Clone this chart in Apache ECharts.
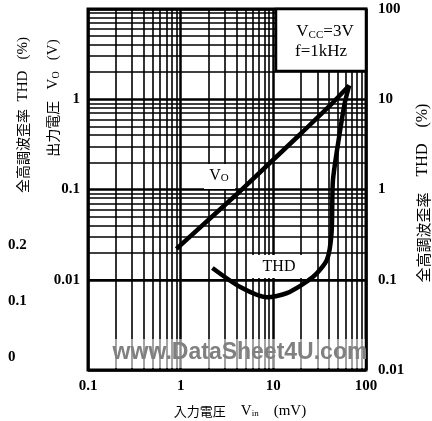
<!DOCTYPE html>
<html>
<head>
<meta charset="utf-8">
<script src="https://cdn.jsdelivr.net/npm/echarts@6/dist/echarts.min.js"></script>
<style>html,body{margin:0;padding:0;background:#fff}#c{width:432px;height:421px}</style>
</head>
<body>
<div id="c"></div>
<script>
// Input voltage (mV) and output voltage Vo (V)
const vinVo = [0.9, 4, 20, 44, 66];
const voValues = [0.022, 0.088, 0.42, 0.92, 1.42];
// Input voltage (mV) and THD (%)
const vinThd = [2.2, 4.4, 8.5, 14, 26.7, 37.8, 42.5, 44, 52, 59, 66];
const thdValues = [0.135, 0.083, 0.064, 0.071, 0.107, 0.166, 0.33, 1.27, 4.2, 9.1, 14.2];
// axis tick labels
const xTicks = [0.1, 1, 10, 100];
const voTickLabels = [0.01, 0.1, 1];
const thdTicks = [0.01, 0.1, 1, 10, 100];
const thdLinearTicks = [0, 0.1, 0.2];

const serif = "'Liberation Serif', 'DejaVu Serif', serif";
const cjk = "'Noto Sans CJK JP', 'Noto Sans', sans-serif";

function fmt(v){ return String(+Number(v).toPrecision(3)); }

const minorX = [], minorY = [];
[0.1, 1, 10].forEach(d => { for (let k = 2; k <= 9; k++) minorX.push(+(k * d).toPrecision(3)); });
[0.001, 0.01, 0.1, 1].forEach(d => { for (let k = 2; k <= 9; k++) minorY.push(+(k * d).toPrecision(3)); });

const chart = echarts.init(document.getElementById('c'), null, {renderer: 'canvas'});

chart.setOption({
  animation: false,
  backgroundColor: '#fff',
  grid: [
    { left: 88, right: 66, top: 9, bottom: 51, show: true, borderColor: '#000', borderWidth: 3, backgroundColor: '#fff', z: 0 },
    { left: 88, width: 10, top: 245, height: 112, show: false }
  ],
  xAxis: [
    { type: 'log', gridIndex: 0, min: 0.1, max: 100, logBase: 10,
      axisLine: { show: false }, axisTick: { show: false },
      splitLine: { show: true, lineStyle: { color: '#000', width: 2.5 } },
      axisLabel: { margin: 9, fontFamily: serif, fontSize: 15, fontWeight: 'bold', color: '#000',
        formatter: v => xTicks.some(t => Math.abs(t - v) / t < 1e-6) ? fmt(v) : '' } },
    { type: 'value', gridIndex: 1, min: 0, max: 1, show: false }
  ],
  yAxis: [
    { type: 'log', gridIndex: 0, position: 'left', min: 0.001, max: 10, logBase: 10,
      axisLine: { show: false }, axisTick: { show: false },
      splitLine: { show: true, lineStyle: { color: '#000', width: 2.5 } },
      axisLabel: { margin: 8, fontFamily: serif, fontSize: 15, fontWeight: 'bold', color: '#000',
        formatter: v => voTickLabels.some(t => Math.abs(t - v) / t < 1e-6) ? fmt(v) : '' } },
    { type: 'log', gridIndex: 0, position: 'right', min: 0.01, max: 100, logBase: 10,
      axisLine: { show: false }, axisTick: { show: false }, splitLine: { show: false },
      axisLabel: { margin: 12, fontFamily: serif, fontSize: 15, fontWeight: 'bold', color: '#000',
        formatter: v => thdTicks.some(t => Math.abs(t - v) / t < 1e-6) ? fmt(v) : '' } },
    { type: 'value', gridIndex: 1, position: 'left', min: thdLinearTicks[0], max: thdLinearTicks[thdLinearTicks.length - 1], interval: 0.1,
      axisLine: { show: false }, axisTick: { show: false }, splitLine: { show: false },
      axisLabel: { margin: 80, align: 'left', fontFamily: serif, fontSize: 15, fontWeight: 'bold', color: '#000',
        formatter: v => fmt(v) } }
  ],
  series: [
    { name: 'grid', type: 'line', xAxisIndex: 0, yAxisIndex: 0, data: [], silent: true, z: 1,
      markLine: { silent: true, symbol: 'none', animation: false, label: { show: false },
        lineStyle: { color: '#000', width: 1.6, type: 'solid' },
        data: minorX.map(v => ({ xAxis: v })).concat(minorY.map(v => ({ yAxis: v }))) } },
    { name: 'Vo', type: 'line', xAxisIndex: 0, yAxisIndex: 0, z: 5,
      data: vinVo.map((x, i) => [x, voValues[i]]), symbol: 'none',
      lineStyle: { color: '#000', width: 4.5 } },
    { name: 'THD', type: 'line', xAxisIndex: 0, yAxisIndex: 1, z: 5,
      data: vinThd.map((x, i) => [x, thdValues[i]]), symbol: 'none', smooth: 0.25,
      lineStyle: { color: '#000', width: 4.5 } }
  ],
  graphic: [
    // watermark band
    { type: 'rect', shape: { x: 90, y: 339, width: 275, height: 29 }, style: { fill: 'rgba(255,255,255,0.55)' }, z: 50, silent: true },
    { type: 'text', x: 240, y: 353, z: 51, silent: true,
      style: { text: 'www.DataSheet4U.com', font: "bold 23px 'Liberation Sans', Arial, sans-serif", fill: '#808080', align: 'center', verticalAlign: 'middle' } },
    // condition box
    { type: 'rect', shape: { x: 276, y: 9, width: 90, height: 62 }, style: { fill: '#fff', stroke: '#000', lineWidth: 2.5 }, z: 60 },
    { type: 'text', x: 325, y: 32, z: 61,
      style: { rich: { a: { fontFamily: serif, fontSize: 17, fill: '#000' }, s: { fontFamily: serif, fontSize: 11, fill: '#000', padding: [6,0,0,0] } },
        text: '{a|V}{s|CC}{a|=3V}', align: 'center', verticalAlign: 'middle' } },
    { type: 'text', x: 321, y: 52, z: 61,
      style: { text: 'f=1kHz', font: "17px " + serif, fill: '#000', align: 'center', verticalAlign: 'middle' } },
    // curve labels
    { type: 'rect', shape: { x: 204, y: 164, width: 31, height: 25 }, style: { fill: '#fff' }, z: 60 },
    { type: 'text', x: 219, y: 176, z: 61,
      style: { rich: { a: { fontFamily: serif, fontSize: 16, fill: '#000' }, s: { fontFamily: serif, fontSize: 11, fill: '#000', padding: [5,0,0,0] } },
        text: '{a|V}{s|O}', align: 'center', verticalAlign: 'middle' } },
    { type: 'rect', shape: { x: 252, y: 255, width: 53, height: 23 }, style: { fill: '#fff' }, z: 60 },
    { type: 'text', x: 279, y: 267, z: 61,
      style: { text: 'THD', font: "16px " + serif, fill: '#000', align: 'center', verticalAlign: 'middle' } },
    // axis titles
    { type: 'text', x: 23, y: 115, rotation: Math.PI / 2, z: 61,
      style: { rich: { c: { fontFamily: cjk, fontSize: 14, fill: '#000' }, l: { fontFamily: serif, fontSize: 15, fill: '#000' } },
        text: '{c|全高調波歪率}{l|  THD   (%)}', align: 'center', verticalAlign: 'middle' } },
    { type: 'text', x: 53, y: 98, rotation: Math.PI / 2, z: 61,
      style: { rich: { c: { fontFamily: cjk, fontSize: 14, fill: '#000' }, l: { fontFamily: serif, fontSize: 15, fill: '#000' }, s: { fontFamily: serif, fontSize: 10, fill: '#000', padding: [6,0,0,0] } },
        text: '{c|出力電圧}{l|   V}{s|O}{l|   (V)}', align: 'center', verticalAlign: 'middle' } },
    { type: 'text', x: 423, y: 193, rotation: Math.PI / 2, z: 61,
      style: { rich: { c: { fontFamily: cjk, fontSize: 15, fill: '#000' }, l: { fontFamily: serif, fontSize: 16, fill: '#000' } },
        text: '{c|全高調波歪率}{l|    THD    (%)}', align: 'center', verticalAlign: 'middle' } },
    { type: 'text', x: 240, y: 411, z: 61,
      style: { rich: { c: { fontFamily: cjk, fontSize: 13, fill: '#000' }, l: { fontFamily: serif, fontSize: 15, fill: '#000' }, s: { fontFamily: serif, fontSize: 9, fill: '#000', padding: [6,0,0,0] } },
        text: '{c|入力電圧}{l|    V}{s|in}{l|    (mV)}', align: 'center', verticalAlign: 'middle' } }
  ]
});
</script>
</body>
</html>
